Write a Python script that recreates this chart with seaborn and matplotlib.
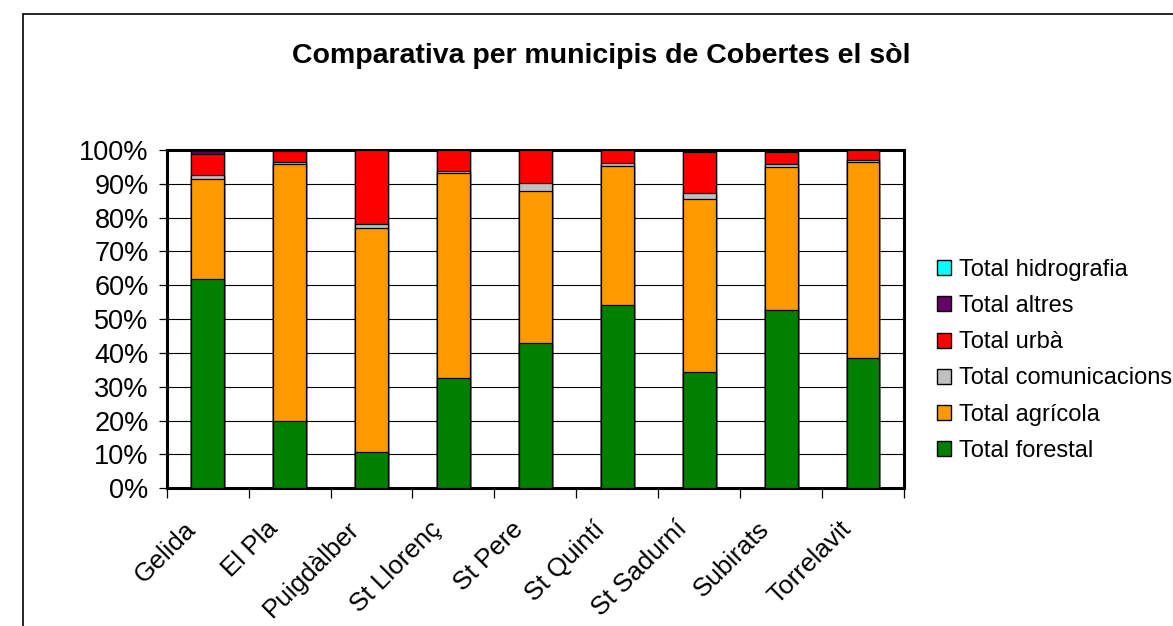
"""Comparativa per municipis de Cobertes el sòl - 100% stacked bars."""

import matplotlib
matplotlib.use("Agg")
import matplotlib.pyplot as plt
import matplotlib.transforms as mtransforms
from matplotlib.patches import Patch, Rectangle
from matplotlib.ticker import FixedLocator, FuncFormatter
import numpy as np
import pandas as pd
import seaborn as sns


municipis = ["Gelida", "El Pla", "Puigdàlber", "St Llorenç", "St Pere",
             "St Quintí", "St Sadurní", "Subirats", "Torrelavit"]
forestal = [61.8, 19.9, 10.6, 32.7, 42.9, 54.2, 34.4, 52.7, 38.4]
agricola = [29.6, 76.0, 66.2, 60.4, 45.1, 41.2, 51.1, 42.2, 58.1]
comunicacions = [1.2, 0.6, 1.3, 0.8, 2.2, 0.8, 1.8, 1.0, 0.6]
urba = [6.2, 3.2, 21.8, 6.0, 9.7, 3.7, 12.2, 3.4, 2.8]
altres = [0.8, 0.2, 0.1, 0.1, 0.1, 0.1, 0.3, 0.4, 0.1]
hidrografia = [0.4, 0.1, 0.0, 0.0, 0.0, 0.0, 0.2, 0.3, 0.0]

series = ["Total forestal", "Total agrícola", "Total comunicacions",
          "Total urbà", "Total altres", "Total hidrografia"]
colors = ["#008000", "#FF9900", "#C0C0C0", "#FF0000", "#660066", "#00FFFF"]

values = np.array([forestal, agricola, comunicacions, urba, altres, hidrografia])
cumul = values.cumsum(axis=0)
frame = pd.DataFrame({"municipi": np.tile(municipis, len(series)),
                      "serie": np.repeat(series, len(municipis)),
                      "top": cumul.ravel()})

sns.set_style("white")
plt.rcParams["font.family"] = ["Liberation Sans", "DejaVu Sans"]
plt.rcParams["text.color"] = "black"
plt.rcParams["xtick.color"] = "black"
plt.rcParams["ytick.color"] = "black"

W, H = 1173, 626
fig = plt.figure(figsize=(W / 100, H / 100), dpi=100)
ax = fig.add_axes([166.7 / W, 1 - 488.3 / H, (904 - 166.7) / W, (488.3 - 150) / H])

# outer chart frame (clipped by the image on right and bottom)
fig.patches.append(Rectangle((23 / W, -0.1), 1.2, 1 - 14 / H + 0.1, transform=fig.transFigure,
                             fill=False, edgecolor="black", linewidth=1.2))

# stacked bars: draw cumulative totals from the top layer down
for name, color in reversed(list(zip(series, colors))):
    sns.barplot(data=frame[frame["serie"].eq(name)], x="municipi", y="top",
                color=color, width=0.4, edgecolor="black", linewidth=0.9,
                errorbar=None, saturation=1, ax=ax, zorder=3)

ax.set_xlim(-0.5, len(municipis) - 0.5)
ax.set_ylim(0, 100)
ax.set_xlabel(""); ax.set_ylabel("")
ax.yaxis.set_major_locator(FixedLocator(np.arange(0, 101, 10)))
ax.yaxis.set_major_formatter(FuncFormatter(lambda v, _: f"{v:.0f}%"))
ax.grid(axis="y", color="black", linewidth=0.8, zorder=0)
ax.set_axisbelow(True)
for spine in ax.spines.values():
    spine.set_visible(True); spine.set_color("black"); spine.set_linewidth(2.2)

ax.tick_params(axis="y", left=True, length=6, width=0.9, labelsize=19.5, pad=7)
ax.set_xticks(np.arange(len(municipis)))
ax.set_xticklabels(municipis, rotation=45, ha="right", va="top", rotation_mode="anchor", fontsize=18.8)
ax.tick_params(axis="x", bottom=False, pad=17)
shift = mtransforms.ScaledTranslation(-24 / 100, 0, fig.dpi_scale_trans)
for label in ax.get_xticklabels():
    label.set_transform(label.get_transform() + shift)
ax.set_xticks(np.arange(-0.5, len(municipis)), minor=True)
ax.tick_params(axis="x", which="minor", bottom=True, length=7, width=0.9)

fig.text(601 / W, 1 - 56 / H, "Comparativa per municipis de Cobertes el sòl",
         ha="center", va="center", fontsize=20.5, fontweight="bold")

handles = [Patch(facecolor=c, edgecolor="black", linewidth=1.0) for c in colors]
fig.legend(handles[::-1], series[::-1], loc="upper left", bbox_to_anchor=(937 / W, 1 - 259 / H),
           frameon=False, fontsize=17, handlelength=0.6, handleheight=0.6,
           handletextpad=0.35, labelspacing=0.6, borderaxespad=0, borderpad=0)

fig.savefig("out.png", dpi=100)
